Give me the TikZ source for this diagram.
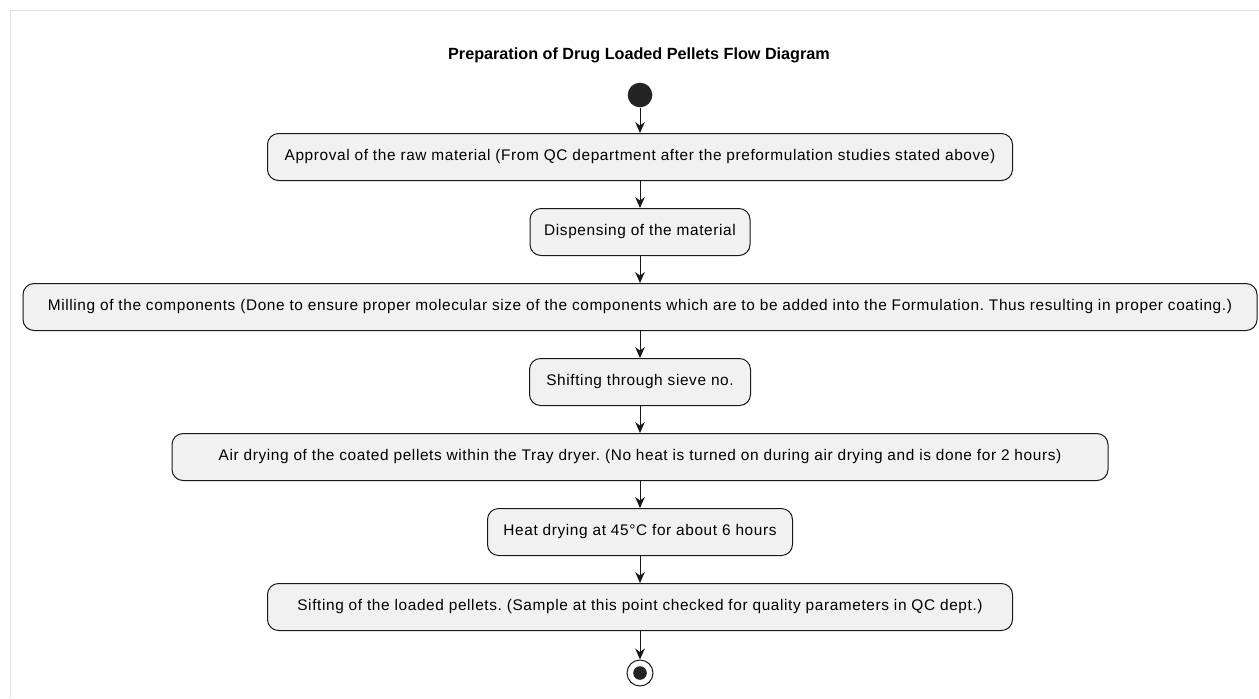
\documentclass[tikz,border=0pt]{standalone}
\usepackage{fontspec}
\setmainfont{Liberation Sans}
\newfontfamily\stepfont[LetterSpace=4]{Liberation Sans}
\usetikzlibrary{arrows.meta}
\definecolor{boxfill}{HTML}{F1F1F1}
\definecolor{linecol}{HTML}{181818}
\frenchspacing

\begin{document}
\begin{tikzpicture}[x=0.5pt,y=-0.5pt,
    stepbox/.style={draw=linecol, line width=0.5pt, fill=boxfill, rounded corners=5.5pt,
        minimum height=23.5pt, inner xsep=6.5pt, font=\stepfont\fontsize{7.7}{9}\selectfont},
    flow/.style={draw=linecol, line width=0.5pt, -{Stealth[length=5.5pt,width=4.8pt,inset=1.8pt]}}]
        \useasboundingbox (0,0) rectangle (1259,698);
        \draw[black!12] (10,698) -- (10,10) -- (1259,10) ; % faint frame
        \node[font=\bfseries\fontsize{8.1}{10}\selectfont] (title) at (639,55) {Preparation of Drug Loaded Pellets Flow Diagram};
        \node[circle, fill=linecol!95!white, minimum size=12.3pt, inner sep=0pt] (start) at (640,95) {};
        \node[stepbox, minimum width=372.5pt] (s1) at (640,157) {Approval of the raw material (From QC department after the preformulation studies stated above)};
        \node[stepbox, minimum width=110pt] (s2) at (640,232) {Dispensing of the material};
        \node[stepbox, minimum width=617pt] (s3) at (640,307) {Milling of the components (Done to ensure proper molecular size of the components which are to be added into the Formulation. Thus resulting in proper coating.)};
        \node[stepbox, minimum width=110.5pt] (s4) at (640,382) {Shifting through sieve no.};
        \node[stepbox, minimum width=468pt] (s5) at (640,457) {Air drying of the coated pellets within the Tray dryer. (No heat is turned on during air drying and is done for 2 hours)};
        \node[stepbox, minimum width=152.5pt] (s6) at (640,532) {Heat drying at 45°C for about 6 hours};
        \node[stepbox, minimum width=372.5pt] (s7) at (640,607) {Sifting of the loaded pellets. (Sample at this point checked for quality parameters in QC dept.)};
        \node[circle, draw=linecol, line width=0.5pt, minimum size=13pt, inner sep=0pt] (stop) at (640,673) {};
        \fill[linecol!95!white] (stop.center) circle (3.4pt);
        \foreach \a/\b in {start/s1,s1/s2,s2/s3,s3/s4,s4/s5,s5/s6,s6/s7,s7/stop} % the flow arrows
        \draw[flow] (\a) -- (\b);
\end{tikzpicture}
\end{document}
